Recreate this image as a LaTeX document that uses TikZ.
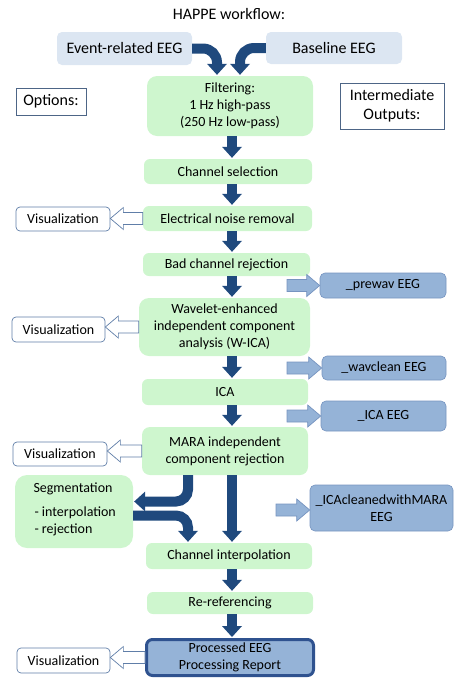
\documentclass[tikz,border=0pt]{standalone}
\usepackage{fontspec}
\setmainfont{Carlito}
\usetikzlibrary{calc,arrows.meta}
\definecolor{stepgreen}{RGB}{206,246,206}
\definecolor{srcblue}{RGB}{220,230,242}
\definecolor{outblue}{RGB}{149,179,215}
\definecolor{outline}{RGB}{118,148,192}
\definecolor{flowblue}{RGB}{31,73,125}
\definecolor{procline}{RGB}{47,82,143}
\definecolor{visline}{RGB}{96,126,168}
\tikzset{
	stepbox/.style={fill=stepgreen, rounded corners=6pt, align=center, inner sep=0pt, font=\fontsize{14}{17}\selectfont},
	srcbox/.style={fill=srcblue, rounded corners=5pt, align=center, inner sep=0pt, font=\fontsize{16}{19}\selectfont},
	outbox/.style={fill=outblue, draw=outline, line width=0.6pt, rounded corners=5pt, align=center, inner sep=0pt, font=\fontsize{14}{17}\selectfont},
	visbox/.style={fill=white, draw=visline, line width=0.7pt, rounded corners=4pt, inner sep=0pt, font=\fontsize{14}{17}\selectfont},
	headbox/.style={fill=white, draw=visline!80!black, line width=0.8pt, align=center, inner sep=0pt, font=\fontsize{16}{19}\selectfont},
	flow/.style={draw=flowblue, line width=10pt, shorten >=1pt, -{Triangle[width=20pt,length=11pt,line width=0pt]}},
	visarrow/.style={fill=white, draw=visline, line width=0.7pt},
	outarrow/.style={fill=outblue, draw=outline, line width=0.7pt}
}
% hollow block arrow, from #2 to tip #3
\newcommand\sidearrow[3][]{\draw[#1] let \p1=(#2), \p2=(#3), \n1={sign(\x2-\x1)} in
	(\x1,\y1+6pt) -- (\x2-\n1*13pt,\y1+6pt) -- (\x2-\n1*13pt,\y1+11pt) -- (\x2,\y1)
	-- (\x2-\n1*13pt,\y1-11pt) -- (\x2-\n1*13pt,\y1-6pt) -- (\x1,\y1-6pt) -- cycle;}

\begin{document}
\begin{tikzpicture}[x=1pt, y=-1pt]
	%%%%% START %%%%%
	\useasboundingbox (0,0) rectangle (459,686);
	
	\node[font=\fontsize{16}{19}\selectfont] (title) at (229,14) {HAPPE workflow:};
	
	\node[srcbox, minimum width=135pt, minimum height=33pt] (erp) at (124.5,48.5) {Event-related EEG};
	\node[srcbox, minimum width=136pt, minimum height=32pt] (base) at (334,48) {Baseline EEG};
	
	\node[headbox, minimum width=70pt, minimum height=27pt] (opts) at (51,101.5) {Options:};
	\node[headbox, minimum width=104pt, minimum height=46pt] (inter) at (392,106) {Intermediate\\Outputs:};
	
	% main steps
	\node[stepbox, rounded corners=10pt, minimum width=166pt, minimum height=60pt] (filt) at (230,106) {Filtering:\\1 Hz high-pass\\(250 Hz low-pass)};
	\node[stepbox, minimum width=168pt, minimum height=25pt] (chsel) at (228,171.5) {Channel selection};
	\node[stepbox, minimum width=169pt, minimum height=25pt] (noise) at (227.5,218.5) {Electrical noise removal};
	\node[stepbox, minimum width=167pt, minimum height=23pt] (badch) at (226.5,264.5) {Bad channel rejection};
	\node[stepbox, rounded corners=10pt, minimum width=171pt, minimum height=58pt] (wav) at (224.5,327) {Wavelet-enhanced\\independent component\\analysis (W-ICA)};
	\node[stepbox, minimum width=166pt, minimum height=26pt] (ica) at (225,392) {ICA};
	\node[stepbox, rounded corners=8pt, minimum width=166pt, minimum height=48pt] (mara) at (225,451) {MARA independent\\component rejection};
	\node[stepbox, rounded corners=12pt, minimum width=118pt, minimum height=73pt] (seg) at (74,511.5) {};
	\node[font=\fontsize{14}{17}\selectfont] at (73,489) {Segmentation};
	\node[font=\fontsize{14}{17}\selectfont, align=left, anchor=west] at (31,521.5) {- interpolation\\- rejection};
	\node[stepbox, minimum width=166pt, minimum height=26pt] (chint) at (229,556) {Channel interpolation};
	\node[stepbox, minimum width=166pt, minimum height=22pt] (reref) at (230,603) {Re-referencing};
	\node[outbox, draw=procline, line width=3pt, rounded corners=6pt, minimum width=167pt, minimum height=36pt] (proc) at (230,657.5) {Processed EEG\\Processing Report};
	
	% options
	\node[visbox, minimum width=94pt, minimum height=24pt] (vis1) at (63,219) {Visualization};
	\node[visbox, minimum width=93pt, minimum height=25pt] (vis2) at (58.5,329.5) {Visualization};
	\node[visbox, minimum width=94pt, minimum height=24pt] (vis3) at (60,454) {Visualization};
	\node[visbox, minimum width=93pt, minimum height=25pt] (vis4) at (63.5,660.5) {Visualization};
	
	% outputs
	\node[outbox, minimum width=126pt, minimum height=25pt] (prewav) at (383,285.5) {\_prewav EEG};
	\node[outbox, minimum width=124pt, minimum height=24pt] (wavcl) at (384,368) {\_wavclean EEG};
	\node[outbox, minimum width=125pt, minimum height=30pt] (icaout) at (383.5,416) {\_ICA EEG};
	\node[outbox, minimum width=143pt, minimum height=46pt] (icamara) at (381.5,508) {\_ICAcleanedwithMARA\\EEG};
	
	\coordinate (ax) at (232,0);
	\coordinate (bx) at (188,0);
	\coordinate (o1) at (287,285.5);
	\coordinate (o2) at (287,368);
	\coordinate (o3) at (287,416);
	\coordinate (o4) at (276,510);
	
	% flow
	\draw[flow, rounded corners=14pt] (erp.east) -| ([xshift=-13pt]filt.north);
	\draw[flow, rounded corners=14pt] (base.west) -| ([xshift=10pt]filt.north);
	\draw[flow] (filt.south -| ax) -- (chsel.north -| ax);
	\draw[flow] (chsel.south -| ax) -- (noise.north -| ax);
	\draw[flow] (noise.south -| ax) -- (badch.north -| ax);
	\draw[flow] (badch.south -| ax) -- (wav.north -| ax);
	\draw[flow] (wav.south -| ax) -- (ica.north -| ax);
	\draw[flow] (ica.south -| ax) -- (mara.north -| ax);
	\draw[flow] (mara.south -| ax) -- (chint.north -| ax);
	\draw[flow, rounded corners=12pt] (mara.south -| bx) |- ([yshift=10pt]seg.east);
	\draw[flow, rounded corners=12pt] ([yshift=-4pt]seg.east) -| (chint.north -| bx);
	\draw[flow] (chint.south -| ax) -- (reref.north -| ax);
	\draw[flow] (reref.south -| ax) -- (proc.north -| ax);
	
	\sidearrow[visarrow]{noise.west}{vis1.east}
	\sidearrow[visarrow]{wav.west}{vis2.east}
	\sidearrow[visarrow]{mara.west}{vis3.east}
	\sidearrow[visarrow]{proc.west}{vis4.east}
	
	\sidearrow[outarrow]{o1}{prewav.west}
	\sidearrow[outarrow]{o2}{wavcl.west}
	\sidearrow[outarrow]{o3}{icaout.west}
	\sidearrow[outarrow]{o4}{icamara.west}
	%%%%% END %%%%%
\end{tikzpicture}
\end{document}
